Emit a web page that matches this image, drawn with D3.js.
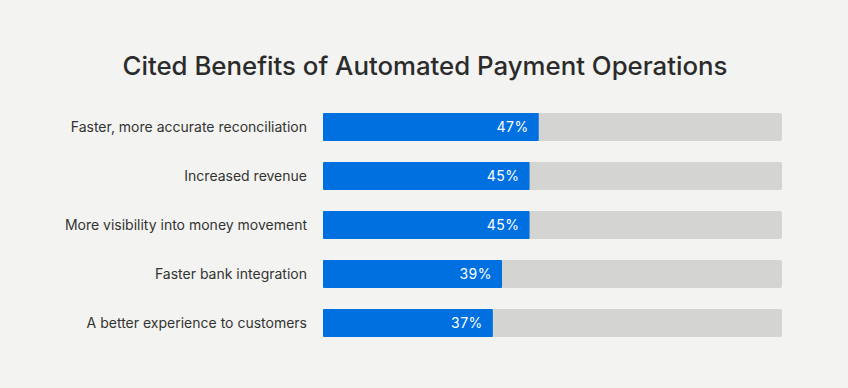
<!DOCTYPE html>
<html>
<head>
<meta charset="utf-8">
<script src="https://cdn.jsdelivr.net/npm/d3@7"></script>
<style>
  body { margin: 0; background: #f3f3f1; }
  svg { display: block; font-family: Inter, "Open Sans", sans-serif; }
</style>
</head>
<body>
<div class="container"></div>
<script>
const categories = [
  "Faster, more accurate reconciliation",
  "Increased revenue",
  "More visibility into money movement",
  "Faster bank integration",
  "A better experience to customers"
];
const values = [47, 45, 45, 39, 37];
const title = "Cited Benefits of Automated Payment Operations";

const width = 848, height = 388;
const barLeft = 323, barRight = 782, firstRow = 113, rowStep = 49, barH = 28;

const svg = d3.select(".container").append("svg")
  .attr("width", width).attr("height", height);

svg.append("rect").attr("width", width).attr("height", height).attr("fill", "#f3f3f1");

svg.append("text")
  .text(title)
  .attr("x", width / 2 + 1)
  .attr("y", 75)
  .attr("text-anchor", "middle")
  .attr("fill", "#2b2b2b")
  .style("font-size", "25.8px")
  .style("font-weight", 500);

const xScale = d3.scaleLinear().domain([0, 100]).range([barLeft, barRight]);
// band layout: bars 28px tall, one every 49px
const yScale = d3.scaleBand()
  .domain(categories)
  .range([firstRow, firstRow + rowStep * (categories.length - 1) + barH])
  .paddingInner((rowStep - barH) / rowStep)
  .paddingOuter(0)
  .align(0);

const rows = svg.selectAll("g.row")
  .data(categories.map((c, i) => ({ name: c, value: values[i] })))
  .enter().append("g").attr("class", "row");

rows.append("rect")
  .attr("x", xScale(0))
  .attr("y", d => yScale(d.name))
  .attr("width", xScale(100) - xScale(0))
  .attr("height", yScale.bandwidth())
  .attr("rx", 2)
  .attr("fill", "#d4d4d2");

rows.append("rect")
  .attr("x", xScale(0))
  .attr("y", d => yScale(d.name))
  .attr("width", d => xScale(d.value) - xScale(0))
  .attr("height", yScale.bandwidth())
  .attr("rx", 1)
  .attr("fill", "#0070e0");

rows.append("text")
  .text(d => d.name)
  .attr("x", barLeft - 16)
  .attr("y", d => yScale(d.name) + yScale.bandwidth() / 2)
  .attr("dy", "0.35em")
  .attr("text-anchor", "end")
  .attr("fill", "#333")
  .style("font-size", "14px");

rows.append("text")
  .text(d => d.value + "%")
  .attr("x", d => xScale(d.value) - 10)
  .attr("y", d => yScale(d.name) + yScale.bandwidth() / 2)
  .attr("dy", "0.36em")
  .attr("text-anchor", "end")
  .attr("fill", "#fff")
  .style("font-size", "14px")
  .style("letter-spacing", "0.5px");
</script>
</body>
</html>
